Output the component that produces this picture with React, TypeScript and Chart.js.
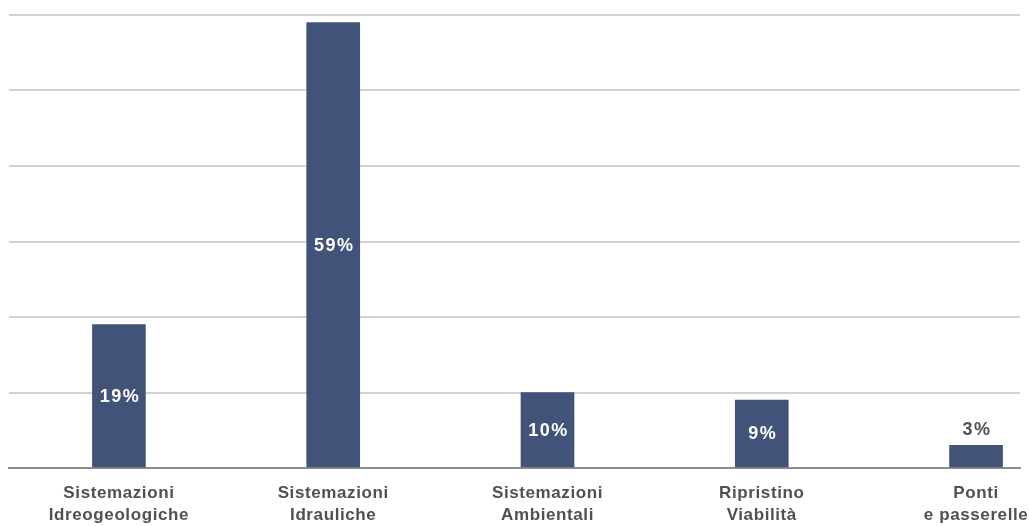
import React, { useEffect, useRef } from "react";
import { Chart, registerables } from "chart.js";

Chart.register(...registerables);

const categories: string[][] = [
  ["Sistemazioni", "Idreogeologiche"],
  ["Sistemazioni", "Idrauliche"],
  ["Sistemazioni", "Ambientali"],
  ["Ripristino", "Viabilità"],
  ["Ponti", "e passerelle"],
];
const shares: number[] = [19, 59, 10, 9, 3];
const yTicks: number[] = [0, 10, 20, 30, 40, 50, 60];

const BAR_COLOR = "#42537A";
const FONT = "'Liberation Sans', Arial, sans-serif";

const valueLabels = {
  id: "valueLabels",
  beforeDraw(chart: any) {
    (chart.ctx as any).letterSpacing = "0.6px";
  },
  afterDatasetsDraw(chart: any) {
    const ctx = chart.ctx;
    const meta = chart.getDatasetMeta(0);
    ctx.save();
    (ctx as any).letterSpacing = "1.5px";
    ctx.font = `bold 18px ${FONT}`;
    ctx.textAlign = "center";
    meta.data.forEach((bar: any, i: number) => {
      const text = `${shares[i]}%`;
      const h = bar.base - bar.y;
      if (h > 40) {
        ctx.fillStyle = "#ffffff";
        ctx.textBaseline = "middle";
        ctx.fillText(text, bar.x + 1, (bar.y + bar.base) / 2 + 1);
      } else {
        ctx.fillStyle = "#505050";
        ctx.textBaseline = "bottom";
        ctx.fillText(text, bar.x + 1, bar.y - 6);
      }
    });
    ctx.restore();
  },
};

export default function App() {
  const ref = useRef<HTMLCanvasElement>(null);
  useEffect(() => {
    if (!ref.current) return;
    const chart = new Chart(ref.current, {
      type: "bar",
      data: {
        datasets: [
          {
            data: shares.map((v, i) => ({ x: i, y: v })),
            backgroundColor: BAR_COLOR,
            barThickness: 53,
          },
        ],
      },
      options: {
        animation: false,
        responsive: true,
        maintainAspectRatio: false,
        layout: { padding: { top: 7, left: 1, right: 9, bottom: 0 } },
        plugins: { legend: { display: false }, tooltip: { enabled: false } },
        scales: {
          x: {
            type: "linear",
            offset: false,
            min: -0.513,
            max: 4.205,
            afterBuildTicks: (scale: any) => {
              scale.ticks = categories.map((_, i) => ({ value: i }));
            },
            afterFit: (scale: any) => {
              scale.height = 58;
              scale.paddingLeft = 0;
              scale.paddingRight = 0;
            },
            grid: { display: false, drawTicks: false, offset: false },
            border: { display: true, color: "#8c8c8c", width: 2 },
            ticks: {
              autoSkip: false,
              maxRotation: 0,
              padding: 15,
              color: "#505050",
              font: { family: FONT, size: 17, weight: "bold", lineHeight: 1.25 },
              callback: (v: any) => categories[Math.round(Number(v))] ?? "",
            },
          },
          y: {
            min: 0,
            max: 60,
            afterBuildTicks: (scale: any) => {
              scale.ticks = yTicks.map((v) => ({ value: v }));
            },
            grid: {
              drawTicks: false,
              lineWidth: 2,
              color: (c: any) => (c.tick && c.tick.value === 0 ? "rgba(0,0,0,0)" : "#d2d2d2"),
            },
            border: { display: false },
            ticks: { display: false },
          },
        },
      },
      plugins: [valueLabels],
    });
    return () => chart.destroy();
  }, []);
  return (
    <>
      <style>{`body{margin:8px 0 0 8px;overflow:hidden}`}</style>
      <div style={{ position: "relative", width: 1021, height: 518 }}>
        <canvas ref={ref} />
      </div>
    </>
  );
}
